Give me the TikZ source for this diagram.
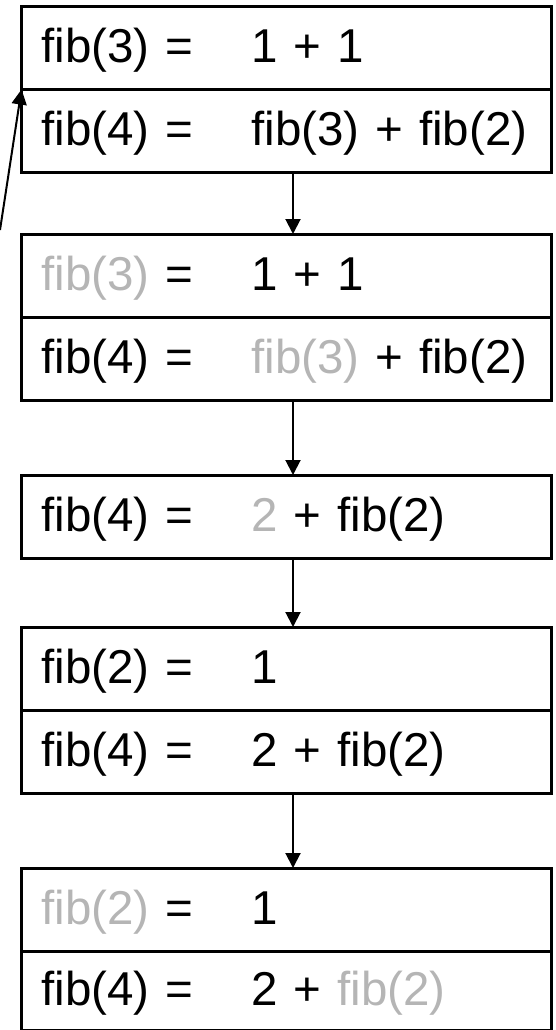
\documentclass[tikz,border=0pt]{standalone}
\usepackage{fontspec}
\setmainfont{Liberation Sans}
\usetikzlibrary{arrows.meta,positioning}
\definecolor{faded}{gray}{0.71}
\newcommand{\done}[1]{\textcolor{faded}{#1}}
\newcommand{\evalrow}[2]{\makebox[210pt][l]{#1}#2}
\tikzset{
  row/.style={draw, line width=3pt, outer sep=0pt, anchor=north west, inner xsep=20pt,
    text width=490pt, align=left, minimum height=83pt,
    text height=34pt, text depth=5pt, font=\fontsize{47.5}{56}\selectfont},
  flow/.style={line width=2pt, -{Triangle[length=15pt,width=15pt]}}
}
\begin{document}
\begin{tikzpicture}[x=1pt,y=1pt]
        \useasboundingbox (0,0) rectangle (556,-1030);
        \node[row] (b1a) at (21.5,-6.5) {\evalrow{fib(3) =}{1 + 1}};
        \node[row, below=0pt of b1a] (b1b) {\evalrow{fib(4) =}{fib(3) + fib(2)}};
        \node[row] (b2a) at (21.5,-234) {\evalrow{\done{fib(3)} =}{1 + 1}};
        \node[row, below=0pt of b2a] (b2b) {\evalrow{fib(4) =}{\done{fib(3)} + fib(2)}};
        \node[row] (b3a) at (21.5,-475) {\evalrow{fib(4) =}{\done{2} + fib(2)}};
        \node[row] (b4a) at (21.5,-627) {\evalrow{fib(2) =}{1}};
        \node[row, below=0pt of b4a] (b4b) {\evalrow{fib(4) =}{2 + fib(2)}};
        \node[row] (b5a) at (21.5,-868) {\evalrow{\done{fib(2)} =}{1}};
        \node[row, below=0pt of b5a, minimum height=79pt] (b5b) {\evalrow{fib(4) =}{2 + \done{fib(2)}}};
        \coordinate (caller) at (0,-230);
        \draw[flow] (caller) -- (b1a.south west);
        \draw[flow] ([xshift=6.5pt]b1b.south) -- ([xshift=6.5pt]b2a.north);
        \draw[flow] ([xshift=6.5pt]b2b.south) -- ([xshift=6.5pt]b3a.north);
        \draw[flow] ([xshift=6.5pt]b3a.south) -- ([xshift=6.5pt]b4a.north);
        \draw[flow] ([xshift=6.5pt]b4b.south) -- ([xshift=6.5pt]b5a.north);
    \end{tikzpicture}
\end{document}
